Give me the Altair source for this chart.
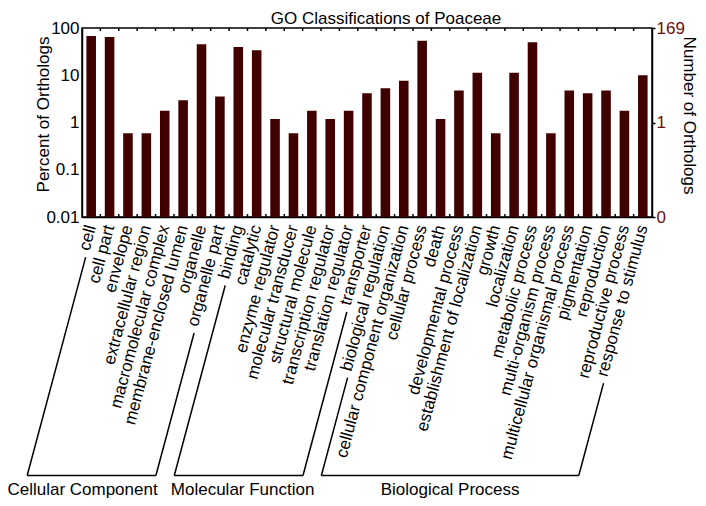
import math
import altair as alt
import pandas as pd

# ---------------- data ----------------
categories = [
    "cell", "cell part", "envelope", "extracellular region", "macromolecular complex",
    "membrane-enclosed lumen", "organelle", "organelle part",
    "binding", "catalytic", "enzyme regulator", "molecular transducer", "structural molecule",
    "transcription regulator", "translation regulator", "transporter",
    "biological regulation", "cellular component organization", "cellular process", "death",
    "developmental process", "establishment of localization", "growth", "localization",
    "metabolic process", "multi-organism process", "multicellular organismal process",
    "pigmentation", "reproduction", "reproductive process", "response to stimulus",
]
group_names = ["Cellular Component", "Molecular Function", "Biological Process"]
group_sizes = [8, 8, 15]
counts = [114, 109, 1, 1, 3, 5, 77, 6,
          67, 57, 2, 1, 3, 2, 3, 7,
          9, 13, 91, 2, 8, 19, 1, 19, 84, 1, 8, 7, 8, 3, 17]
total_orthologs = 169
left_ticks = [0.01, 0.1, 1, 10, 100]
right_ticks = [0.01, 1, 100]
right_tick_labels = ["0", "1", "169"]

FONT = "Liberation Sans"
BAR = "#400000"
DARKRED = "#6b0d0d"
W, H = 570, 189
FS = 17
group_label_shift = [-9, 4, 0]   # pixel nudge of each group caption

groups = []
for g, s in zip(group_names, group_sizes):
    groups += [g] * s
df = pd.DataFrame({
    "category": categories,
    "group": groups,
    "count": counts,
    "percent": [c / total_orthologs * 100 for c in counts],
})

# --------- bracket geometry derived from category index and label length ---------
ARIAL = dict(a=556, b=556, c=500, d=556, e=556, f=278, g=556, h=556, i=222, j=222, k=500,
             l=222, m=833, n=556, o=556, p=556, q=556, r=333, s=500, t=278, u=556, v=500,
             w=722, x=500, y=500, z=500)
ARIAL[" "] = 278
ARIAL["-"] = 333


def text_len(t):
    return sum(ARIAL.get(ch, 556) for ch in t) * FS / 1000.0


n = len(categories)
step = W / n
ang = math.radians(75)
ca, sa = math.cos(ang), math.sin(ang)
label_pad, gap, perp = 8, 7, 3
bottom_y = 447.5
text_y = 462


def top_point(i):
    ax, ay = (i + 0.5) * step, H + label_pad
    d = text_len(categories[i]) + gap
    return ax - d * ca + perp * sa, ay + d * sa + perp * ca


def to_idx(px):
    return px / step - 0.5


seg_rows, txt_rows = [], []
start = 0
for g, s, sh in zip(group_names, group_sizes, group_label_shift):
    f, l = start, start + s - 1
    start += s
    ltx, lty = top_point(f)
    rtx, rty = top_point(l)
    lbx = ltx - (bottom_y - lty) * ca / sa
    rbx = rtx - (bottom_y - rty) * ca / sa
    seg_rows += [
        dict(x=to_idx(ltx), y=lty, x2=to_idx(lbx), y2=bottom_y),
        dict(x=to_idx(lbx), y=bottom_y, x2=to_idx(rbx), y2=bottom_y),
        dict(x=to_idx(rbx), y=bottom_y, x2=to_idx(rtx), y2=rty),
    ]
    txt_rows.append(dict(x=to_idx((lbx + rbx) / 2 + sh), y=text_y, label=g))

for k in range(1, n):
    seg_rows.append(dict(x=k - 0.5, y=0, x2=k - 0.5, y2=3))
    seg_rows.append(dict(x=k - 0.5, y=H - 3, x2=k - 0.5, y2=H))

seg_df = pd.DataFrame(seg_rows)
txt_df = pd.DataFrame(txt_rows)

# ---------------- chart ----------------
band = alt.Scale(paddingInner=0.48, paddingOuter=0.24)
logscale = alt.Scale(type="log", domain=[0.01, 100], nice=False)

bars = alt.Chart(df).mark_bar(color=BAR).encode(
    x=alt.X("category:N", sort=categories, scale=band,
            axis=alt.Axis(title=None, labelAngle=-75, labelAlign="right", labelBaseline="middle",
                          labelPadding=label_pad, ticks=False, labelFontSize=FS, labelFont=FONT,
                          labelColor="black", labelLimit=0, labelOverlap=False,
                          domainColor="black", domainWidth=1.5)),
    y=alt.Y("percent:Q", scale=logscale,
            axis=alt.Axis(orient="left", values=left_ticks, labelExpr="format(datum.value, '~g')",
                          title="Percent of Orthologs", titleFontSize=FS, titleFont=FONT,
                          titleFontWeight="normal", titleX=-39, titleY=86, titleAngle=-90,
                          titleAlign="center", titleBaseline="middle",
                          labelFontSize=FS, labelFont=FONT, labelColor="black",
                          ticks=False, labelPadding=3, grid=False,
                          domainColor="black", domainWidth=1.5)),
    y2=alt.datum(0.01),
)

label_map = "{" + ",".join(f"'{v:g}':'{t}'" for v, t in zip(right_ticks, right_tick_labels)) + "}"
ghost = alt.Chart(df).mark_bar(opacity=0).encode(
    x=alt.X("category:N", sort=categories, scale=band, axis=None),
    y=alt.Y("percent:Q", scale=logscale,
            axis=alt.Axis(orient="right", values=right_ticks,
                          labelExpr=label_map + "[format(datum.value, '~g')]",
                          title="Number of Orthologs", titleFontSize=FS, titleFont=FONT,
                          titleFontWeight="normal", titleX=36, titleY=87, titleAngle=90,
                          titleAlign="center", titleBaseline="middle", titleColor="black",
                          labelFontSize=FS, labelFont=FONT, labelColor=DARKRED,
                          ticks=True, tickSize=3, tickColor="black", tickWidth=1.5,
                          labelPadding=1, grid=False,
                          domainColor="black", domainWidth=1.5)),
    y2=alt.datum(0.01),
)

xdec = alt.Scale(domain=[-0.5, n - 0.5], nice=False, zero=False)
ydec = alt.Scale(domain=[0, 1000], range=[0, 1000], nice=False, zero=False)

lines = alt.Chart(seg_df).mark_rule(color="black", strokeWidth=1.5).encode(
    x=alt.X("x:Q", scale=xdec, axis=None),
    x2="x2:Q",
    y=alt.Y("y:Q", scale=ydec, axis=None),
    y2="y2:Q",
)

gtext = alt.Chart(txt_df).mark_text(font=FONT, fontSize=FS, color="black",
                                    align="center", baseline="middle").encode(
    x=alt.X("x:Q", scale=xdec, axis=None),
    y=alt.Y("y:Q", scale=ydec, axis=None),
    text="label:N",
)

chart = alt.layer(bars, ghost, lines, gtext).resolve_scale(
    x="independent", y="independent"
).properties(
    width=W, height=H,
    title=alt.TitleParams("GO Classifications of Poaceae", fontSize=FS, font=FONT,
                          fontWeight="normal", anchor="middle", frame="group", dx=19,
                          dy=13, offset=4, color="black"),
    padding={"left": 74, "top": 20, "right": 46, "bottom": 281},
    autosize=alt.AutoSizeParams(type="none"),
).configure_view(stroke="black", strokeWidth=1.5)

chart.save("out.html", embed_options={"renderer": "svg", "actions": False})
